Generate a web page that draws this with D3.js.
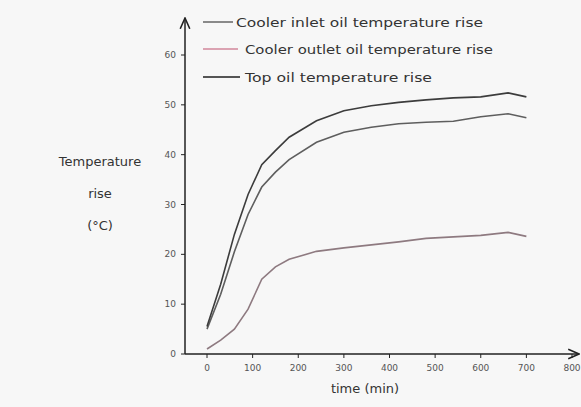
<!DOCTYPE html>
<html lang="en">
<head>
    <meta charset="UTF-8">
    <title>Temperature rise</title>
    <script src="https://d3js.org/d3.v7.min.js"></script>
    <style>
        body {
            margin: 0;
            padding: 0;
            background-color: #f7f7f7;
            font-family: 'DejaVu Sans', sans-serif;
        }
        .tick-label { font-size: 9px; fill: #555; }
        .title { font-size: 13px; fill: #333; }
        .legend-text { font-size: 13px; fill: #333; }
    </style>
</head>
<body>
    <script>
        // time in minutes
        var times = [0, 30, 60, 90, 120, 150, 180, 240, 300, 360, 420, 480, 540, 600, 660, 700];
        var inletRise  = [5, 12, 20.5, 28, 33.5, 36.5, 39, 42.5, 44.5, 45.5, 46.2, 46.5, 46.7, 47.6, 48.2, 47.4];
        var outletRise = [1, 2.8, 5, 9, 15, 17.5, 19, 20.6, 21.3, 21.9, 22.5, 23.2, 23.5, 23.8, 24.4, 23.6];
        var topRise    = [5.5, 14, 24, 32, 38, 40.8, 43.5, 46.8, 48.8, 49.8, 50.5, 51, 51.4, 51.6, 52.4, 51.6];

        var xTicks = [0, 100, 200, 300, 400, 500, 600, 700, 800];
        var yTicks = [0, 10, 20, 30, 40, 50, 60];

        var series = [
            { name: "Cooler inlet oil temperature rise", values: inletRise, color: "#5e5e5e", legendColor: "#8a8a8a" },
            { name: "Cooler outlet oil temperature rise", values: outletRise, color: "#8e7a80", legendColor: "#dba3b2" },
            { name: "Top oil temperature rise", values: topRise, color: "#3c3c3c", legendColor: "#555" }
        ];

        var width = 581, height = 407;
        var svg = d3.select("body").append("svg")
            .attr("width", width)
            .attr("height", height);

        var x = d3.scaleLinear().domain([0, 800]).range([207, 572]);
        var y = d3.scaleLinear().domain([0, 60]).range([354, 55]);
        var axisX = 185, axisY = 354;

        // arrow heads
        svg.append("defs").append("marker")
            .attr("id", "arrow")
            .attr("viewBox", "0 0 10 10")
            .attr("refX", 9).attr("refY", 5)
            .attr("markerWidth", 8).attr("markerHeight", 8)
            .attr("orient", "auto")
            .append("path")
            .attr("d", "M0,1 L9,5 L0,9")
            .attr("fill", "none")
            .attr("stroke", "#222")
            .attr("stroke-width", 1.3);

        // axes lines
        svg.append("line")
            .attr("x1", axisX).attr("y1", axisY)
            .attr("x2", axisX).attr("y2", 18)
            .attr("stroke", "#222").attr("stroke-width", 1.5)
            .attr("marker-end", "url(#arrow)");
        svg.append("line")
            .attr("x1", axisX).attr("y1", axisY)
            .attr("x2", 579).attr("y2", axisY)
            .attr("stroke", "#222").attr("stroke-width", 1.5)
            .attr("marker-end", "url(#arrow)");

        // y ticks
        var yg = svg.append("g");
        yg.selectAll("line").data(yTicks).enter().append("line")
            .attr("x1", axisX - 4).attr("x2", axisX)
            .attr("y1", function(d) { return y(d); })
            .attr("y2", function(d) { return y(d); })
            .attr("stroke", "#222");
        yg.selectAll("text").data(yTicks).enter().append("text")
            .attr("class", "tick-label")
            .attr("x", axisX - 9)
            .attr("y", function(d) { return y(d) + 3; })
            .attr("text-anchor", "end")
            .text(function(d) { return d; });

        // x ticks
        var xg = svg.append("g");
        xg.selectAll("line").data(xTicks).enter().append("line")
            .attr("x1", function(d) { return x(d); })
            .attr("x2", function(d) { return x(d); })
            .attr("y1", axisY).attr("y2", axisY + 4)
            .attr("stroke", "#222");
        xg.selectAll("text").data(xTicks).enter().append("text")
            .attr("class", "tick-label")
            .attr("x", function(d) { return x(d); })
            .attr("y", axisY + 17)
            .attr("text-anchor", "middle")
            .text(function(d) { return d; });

        // axis titles
        svg.append("text").attr("class", "title")
            .attr("x", 365).attr("y", 393)
            .attr("text-anchor", "middle")
            .text("time (min)");

        var yTitle = ["Temperature", "rise", "(°C)"];
        svg.append("g").selectAll("text").data(yTitle).enter().append("text")
            .attr("class", "title")
            .attr("x", 100)
            .attr("y", function(d, i) { return 166 + i * 32; })
            .attr("text-anchor", "middle")
            .text(function(d) { return d; });

        // lines
        var line = d3.line()
            .x(function(d) { return x(d[0]); })
            .y(function(d) { return y(d[1]); });

        series.forEach(function(s) {
            svg.append("path")
                .datum(times.map(function(t, i) { return [t, s.values[i]]; }))
                .attr("d", line)
                .attr("fill", "none")
                .attr("stroke", s.color)
                .attr("stroke-width", 1.6);
        });

        // legend
        var legendPos = [
            { x1: 203, x2: 233, tx: 236, y: 22, w: 247 },
            { x1: 203, x2: 238, tx: 245, y: 49, w: 248 },
            { x1: 203, x2: 240, tx: 245, y: 77, w: 187 }
        ];
        series.forEach(function(s, i) {
            var p = legendPos[i];
            svg.append("line")
                .attr("x1", p.x1).attr("x2", p.x2)
                .attr("y1", p.y).attr("y2", p.y)
                .attr("stroke", s.legendColor).attr("stroke-width", 2);
            svg.append("text")
                .attr("class", "legend-text")
                .attr("x", p.tx).attr("y", p.y + 5)
                .attr("textLength", p.w)
                .attr("lengthAdjust", "spacingAndGlyphs")
                .text(s.name);
        });
    </script>
</body>
</html>
